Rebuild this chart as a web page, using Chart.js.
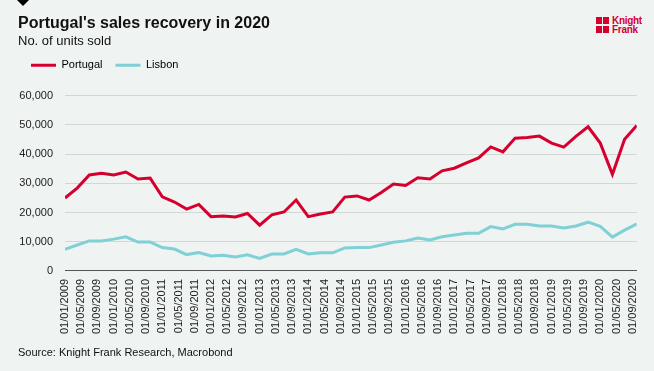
<!DOCTYPE html>
<html>
<head>
<meta charset="utf-8">
<script src="https://cdn.jsdelivr.net/npm/chart.js@4/dist/chart.umd.min.js"></script>
<style>
  html, body { margin: 0; padding: 0; background: #eff3f2; }
  .wrap { position: relative; width: 654px; height: 371px; background: #eff3f2; font-family: "Liberation Sans", Arial, sans-serif; }
  .marker { position: absolute; left: 17px; top: 0; width: 0; height: 0;
    border-left: 6px solid transparent; border-right: 6px solid transparent; border-top: 6px solid #000; }
  .source { position: absolute; left: 18px; top: 346px; font-size: 11px; color: #111; }
  .logo { position: absolute; left: 596px; top: 16px; display: flex; align-items: flex-start; }
  .logo .mark { width: 13px; height: 17px; position: relative; margin-right: 3px; }
  .logo .mark span { position: absolute; width: 6px; height: 7px; background: #d6002f; }
  .logo .txt { color: #d6002f; font-size: 10px; font-weight: bold; line-height: 9px; letter-spacing: -0.3px; }
  canvas { position: absolute; left: 0; top: 0; }
</style>
</head>
<body>
<div class="wrap">
  <div class="marker"></div>
  <div class="logo">
    <div class="mark">
      <span style="left:0;top:1px"></span><span style="left:7px;top:1px"></span>
      <span style="left:0;top:10px"></span><span style="left:7px;top:10px"></span>
    </div>
    <div class="txt">Knight<br>Frank</div>
  </div>
  <canvas id="salesChart" width="654" height="371"></canvas>
  <div class="source">Source: Knight Frank Research, Macrobond</div>
</div>
<script>
// quarterly data, Q1 2009 .. Q4 2020
const portugal = [
  25000, 28400, 32900, 33500, 32900, 33900, 31500, 31800,
  25400, 23600, 21200, 22800, 18600, 18800, 18500, 19700,
  15700, 19200, 20200, 24300, 18600, 19500, 20200, 25300,
  25700, 24300, 26900, 29800, 29300, 31900, 31500, 34300,
  35200, 37000, 38700, 42500, 40800, 45500, 45700, 46200,
  43800, 42400, 46100, 49400, 43800, 33100, 45100, 49800,
];
const lisbon = [
  7400, 8900, 10300, 10300, 10900, 11700, 9900, 9900,
  8000, 7500, 5600, 6300, 5100, 5400, 4800, 5500,
  4300, 5800, 5800, 7400, 5800, 6200, 6200, 7900,
  8000, 8000, 8900, 9800, 10300, 11300, 10600, 11700,
  12300, 12900, 12900, 15200, 14400, 16000, 16000, 15400,
  15400, 14700, 15400, 16700, 15300, 11600, 14000, 16100,
];
const tickLabels = [
  "01/01/2009", "01/05/2009", "01/09/2009", "01/01/2010", "01/05/2010", "01/09/2010",
  "01/01/2011", "01/05/2011", "01/09/2011", "01/01/2012", "01/05/2012", "01/09/2012",
  "01/01/2013", "01/05/2013", "01/09/2013", "01/01/2014", "01/05/2014", "01/09/2014",
  "01/01/2015", "01/05/2015", "01/09/2015", "01/01/2016", "01/05/2016", "01/09/2016",
  "01/01/2017", "01/05/2017", "01/09/2017", "01/01/2018", "01/05/2018", "01/09/2018",
  "01/01/2019", "01/05/2019", "01/09/2019", "01/01/2020", "01/05/2020", "01/09/2020",
];

// x is months since Jan 2009: points are quarterly, labels every 4 months
const toPoints = (arr) => arr.map((v, i) => ({ x: i * 3, y: v }));

const legendGap = {
  id: "legendGap",
  beforeInit(chart) {
    const fit = chart.legend.fit;
    chart.legend.fit = function () {
      fit.bind(chart.legend)();
      this.height += 15;
    };
  },
};

Chart.defaults.font.family = '"Liberation Sans", Arial, sans-serif';
Chart.defaults.color = "#111";

new Chart(document.getElementById("salesChart"), {
  type: "line",
  data: {
    datasets: [
      {
        label: "Portugal",
        data: toPoints(portugal),
        borderColor: "#d6002f",
        backgroundColor: "#d6002f",
        borderWidth: 3,
        pointRadius: 0,
        tension: 0,
      },
      {
        label: "Lisbon",
        data: toPoints(lisbon),
        borderColor: "#80d0d6",
        backgroundColor: "#80d0d6",
        borderWidth: 3,
        pointRadius: 0,
        tension: 0,
      },
    ],
  },
  plugins: [legendGap],
  options: {
    responsive: false,
    animation: false,
    layout: { padding: { left: 18, right: 14, top: 0, bottom: 29 } },
    scales: {
      x: {
        type: "linear",
        min: 0,
        max: 141,
        afterBuildTicks: (axis) => {
          axis.ticks = tickLabels.map((_, i) => ({ value: i * 4 }));
        },
        ticks: {
          autoSkip: false,
          minRotation: 90,
          maxRotation: 90,
          padding: 8,
          color: "#222",
          font: { size: 11 },
          callback: (v) => tickLabels[v / 4],
        },
        grid: { display: false, drawTicks: false },
        border: { color: "#555", width: 1 },
      },
      y: {
        min: 0,
        max: 60000,
        afterFit: (axis) => {
          axis.width = 47;
        },
        ticks: {
          stepSize: 10000,
          padding: 12,
          color: "#222",
          font: { size: 11 },
          callback: (v) => v.toLocaleString("en-US"),
        },
        grid: { color: "#d2d6d6", drawTicks: false },
        border: { display: false },
      },
    },
    plugins: {
      title: {
        display: true,
        text: "Portugal's sales recovery in 2020",
        align: "start",
        color: "#111",
        font: { size: 16, weight: "bold" },
        padding: { top: 14, bottom: 0 },
      },
      subtitle: {
        display: true,
        text: "No. of units sold",
        align: "start",
        color: "#111",
        font: { size: 13 },
        padding: { top: 0, bottom: -2 },
      },
      legend: {
        position: "top",
        align: "start",
        labels: {
          boxWidth: 25,
          boxHeight: 3,
          padding: 13,
          color: "#111",
          font: { size: 11 },
          generateLabels: (chart) =>
            chart.data.datasets.map((ds, i) => ({
              text: ds.label,
              fillStyle: ds.borderColor,
              strokeStyle: ds.borderColor,
              lineWidth: 0,
              datasetIndex: i,
            })),
        },
      },
      tooltip: { enabled: false },
    },
  },
});
</script>
</body>
</html>
